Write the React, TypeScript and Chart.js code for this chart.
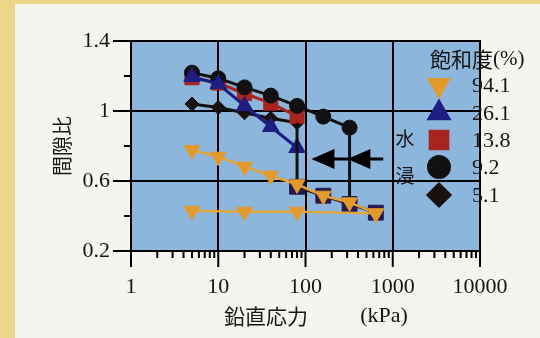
import { useEffect, useRef } from 'react';
import { Chart, registerables } from 'chart.js';
import { drawPoint } from 'chart.js/helpers';

Chart.register(...registerables);

// ---- data ----
const stressLoad = [5, 10, 20, 40, 80, 160, 320, 640];
const e941Load = [0.777, 0.739, 0.682, 0.63, 0.581, 0.516, 0.478, 0.415];
const stress941Unload = [640, 80, 20, 5];
const e941Unload = [0.415, 0.425, 0.425, 0.43];

const stressDry = [5, 10, 20, 40, 80];
const e261 = [1.196, 1.155, 1.03, 0.91, 0.79];
const e138 = [1.19, 1.16, 1.1, 1.045, 0.97];
const e051 = [1.04, 1.02, 0.99, 0.958, 0.933];

const stress092 = [5, 10, 20, 40, 80, 160, 320];
const e092 = [1.219, 1.187, 1.135, 1.088, 1.029, 0.968, 0.905];

const stressWet = [80, 160, 320, 640];
const eWet = [0.567, 0.516, 0.469, 0.419];

const soakAStress = [80, 80];
const soakAE = [0.933, 0.567];
const soakBStress = [320, 320];
const soakBE = [0.905, 0.469];

const saturationLabels = ['94.1', '26.1', '13.8', '9.2', '5.1'];
const legendTitle = '飽和度(%)';
const soakText = ['水', '浸'];

const xTickValues = [1, 10, 100, 1000, 10000];
const xTickLabels = ['1', '10', '100', '1000', '10000'];
const yTickValues = [0.2, 0.6, 1, 1.4];
const yTickLabels = ['0.2', '0.6', '1', '1.4'];
const yMinorTicks = [0.4, 0.8, 1.2];

// arrow annotation (data coordinates)
const arrowE = 0.726;
const arrowTail = 778;
const arrowTips = [117, 302];

const pts = (xs: number[], ys: number[]) => xs.map((x, i) => ({ x, y: ys[i] }));

const SERIF = "'Liberation Serif', 'Noto Sans CJK JP', serif";
const CJK = "'Noto Sans CJK JP', 'Liberation Serif', sans-serif";
const TEXT = '#161616';

const ORANGE = '#E39A2C';
const NAVY = '#1E1E82';
const RED = '#A8241E';
const BLACK = '#111111';

export default function App() {
  const ref = useRef<HTMLCanvasElement | null>(null);

  useEffect(() => {
    if (!ref.current) return;

    const decorPlugin = {
      id: 'decor',
      beforeDraw(chart: any) {
        const { ctx, chartArea: a, width, height } = chart;
        ctx.save();
        ctx.fillStyle = '#F4F4F0';
        ctx.fillRect(0, 0, width, height);
        ctx.fillStyle = '#EDD688';
        ctx.fillRect(0, 0, 15, height);
        ctx.fillRect(0, 0, width, 4);
        ctx.fillStyle = '#8DB6DD';
        ctx.fillRect(a.left, a.top, a.right - a.left, a.bottom - a.top);
        ctx.restore();
      },
      afterDraw(chart: any) {
        const { ctx, chartArea: a } = chart;
        const xs = chart.scales.x;
        const ys = chart.scales.y;
        ctx.save();
        // frame
        ctx.strokeStyle = '#000';
        ctx.lineWidth = 2;
        ctx.strokeRect(a.left, a.top, a.right - a.left, a.bottom - a.top);
        // y ticks
        ctx.beginPath();
        yTickValues.forEach((v) => {
          const y = ys.getPixelForValue(v);
          ctx.moveTo(a.left - 18, y);
          ctx.lineTo(a.left, y);
        });
        yMinorTicks.forEach((v) => {
          const y = ys.getPixelForValue(v);
          ctx.moveTo(a.left - 7, y);
          ctx.lineTo(a.left, y);
        });
        // x ticks
        for (let d = 0; d < 4; d++) {
          for (let m = 2; m <= 9; m++) {
            const x = xs.getPixelForValue(m * Math.pow(10, d));
            ctx.moveTo(x, a.bottom);
            ctx.lineTo(x, a.bottom + 7);
          }
        }
        xTickValues.forEach((v) => {
          const x = xs.getPixelForValue(v);
          ctx.moveTo(x, a.bottom);
          ctx.lineTo(x, a.bottom + 16);
        });
        ctx.stroke();

        // arrow annotation
        const ay = ys.getPixelForValue(arrowE);
        ctx.strokeStyle = '#000';
        ctx.fillStyle = '#000';
        ctx.lineWidth = 3;
        ctx.beginPath();
        ctx.moveTo(xs.getPixelForValue(arrowTail), ay);
        ctx.lineTo(xs.getPixelForValue(arrowTips[0]) + 4, ay);
        ctx.stroke();
        arrowTips.forEach((t) => {
          const tx = xs.getPixelForValue(t);
          ctx.beginPath();
          ctx.moveTo(tx, ay);
          ctx.lineTo(tx + 23, ay - 10);
          ctx.lineTo(tx + 23, ay + 10);
          ctx.closePath();
          ctx.fill();
        });

        // axis titles
        ctx.fillStyle = TEXT;
        ctx.textBaseline = 'middle';
        ctx.textAlign = 'center';
        ctx.font = `21px ${CJK}`;
        ctx.fillText('鉛直応力', 266, 316);
        ctx.font = `22px ${SERIF}`;
        ctx.fillText('(kPa)', 384, 316);
        ctx.save();
        ctx.translate(62, (a.top + a.bottom) / 2);
        ctx.rotate(-Math.PI / 2);
        ctx.font = `20px ${CJK}`;
        ctx.fillText('間隙比', 0, 0);
        ctx.restore();

        // soak text
        ctx.font = `19px ${CJK}`;
        ctx.fillText(soakText[0], a.right - 75, 139);
        ctx.fillText(soakText[1], a.right - 75, 176);

        // legend
        ctx.textAlign = 'left';
        ctx.font = `21px ${CJK}`;
        const jp = legendTitle.slice(0, 3);
        ctx.fillText(jp, 430, 59);
        const jpW = ctx.measureText(jp).width;
        ctx.font = `21px ${SERIF}`;
        ctx.fillText(legendTitle.slice(3), 430 + jpW, 59);

        const legendDs = [0, 4, 6, 5, 7];
        const rowY = [85, 113, 140, 167, 195];
        const legendRadius = [11, 11.5, 12.5, 10.5, 11];
        legendDs.forEach((di, i) => {
          const ds = chart.data.datasets[di];
          ctx.fillStyle = ds.pointBackgroundColor;
          ctx.strokeStyle = ds.pointBorderColor;
          drawPoint(
            ctx,
            {
              pointStyle: ds.pointStyle,
              rotation: ds.pointRotation || 0,
              radius: legendRadius[i],
              borderWidth: 1,
            },
            439,
            rowY[i]
          );
          ctx.fillStyle = TEXT;
          ctx.font = `22px ${SERIF}`;
          ctx.fillText(saturationLabels[i], 472, rowY[i] + 1);
        });
        ctx.restore();
      },
    };

    const chart = new Chart(ref.current, {
      type: 'scatter',
      data: {
        datasets: [
          {
            label: saturationLabels[0],
            data: [...pts(stressLoad, e941Load), ...pts(stress941Unload, e941Unload)],
            showLine: true,
            borderColor: '#E2A636',
            borderWidth: 2.5,
            pointStyle: 'triangle',
            pointRotation: 180,
            pointRadius: 9,
            pointBackgroundColor: ORANGE,
            pointBorderColor: ORANGE,
            pointBorderWidth: 1,
          } as any,
          {
            label: 'wet',
            data: pts(stressWet, eWet),
            showLine: true,
            borderColor: '#3A1830',
            borderWidth: 3,
            pointStyle: 'rect',
            pointRadius: 10.5,
            pointBackgroundColor: '#241A50',
            pointBorderColor: '#241A50',
            pointBorderWidth: 1,
          },
          {
            label: 'soakA',
            data: pts(soakAStress, soakAE),
            showLine: true,
            borderColor: BLACK,
            borderWidth: 3,
            pointRadius: 0,
          },
          {
            label: 'soakB',
            data: pts(soakBStress, soakBE),
            showLine: true,
            borderColor: BLACK,
            borderWidth: 3,
            pointRadius: 0,
          },
          {
            label: saturationLabels[1],
            data: pts(stressDry, e261),
            showLine: true,
            borderColor: NAVY,
            borderWidth: 3,
            pointStyle: 'triangle',
            pointRadius: 9.5,
            pointBackgroundColor: NAVY,
            pointBorderColor: NAVY,
            pointBorderWidth: 1,
          },
          {
            label: saturationLabels[3],
            data: pts(stress092, e092),
            showLine: true,
            borderColor: BLACK,
            borderWidth: 3,
            pointStyle: 'circle',
            pointRadius: 7.5,
            pointBackgroundColor: BLACK,
            pointBorderColor: BLACK,
            pointBorderWidth: 1,
          },
          {
            label: saturationLabels[2],
            data: pts(stressDry, e138),
            showLine: true,
            borderColor: RED,
            borderWidth: 3,
            pointStyle: 'rect',
            pointRadius: 10,
            pointBackgroundColor: RED,
            pointBorderColor: RED,
            pointBorderWidth: 1,
          },
          {
            label: saturationLabels[4],
            data: pts(stressDry, e051),
            showLine: true,
            borderColor: BLACK,
            borderWidth: 3,
            pointStyle: 'rectRot',
            pointRadius: 7,
            pointBackgroundColor: '#1A1010',
            pointBorderColor: '#1A1010',
            pointBorderWidth: 1,
          },
        ],
      },
      options: {
        responsive: false,
        animation: false,
        events: [],
        layout: { padding: { left: 0, right: 60, top: 41, bottom: 0 } },
        plugins: {
          legend: { display: false },
          tooltip: { enabled: false },
          title: { display: false },
        },
        scales: {
          x: {
            type: 'logarithmic',
            position: 'bottom',
            min: 1,
            max: 10000,
            border: { display: false },
            grid: { color: '#000', lineWidth: 2, drawTicks: false },
            ticks: {
              padding: 23,
              color: TEXT,
              font: { family: SERIF, size: 22 },
              maxRotation: 0,
              autoSkip: false,
              callback: (v: any) => {
                const i = xTickValues.indexOf(Number(v));
                return i >= 0 ? xTickLabels[i] : '';
              },
            },
            afterBuildTicks: (s: any) => {
              s.ticks = xTickValues.map((value) => ({ value }));
            },
            afterFit: (s: any) => {
              s.height = 87;
            },
          },
          y: {
            type: 'linear',
            min: 0.2,
            max: 1.4,
            border: { display: false },
            grid: { color: '#000', lineWidth: 2, drawTicks: false },
            ticks: {
              padding: 21,
              color: TEXT,
              font: { family: SERIF, size: 22 },
              autoSkip: false,
              callback: (v: any) => {
                const i = yTickValues.findIndex((t) => Math.abs(t - Number(v)) < 1e-6);
                return i >= 0 ? yTickLabels[i] : '';
              },
            },
            afterBuildTicks: (s: any) => {
              s.ticks = yTickValues.map((value) => ({ value }));
            },
            afterFit: (s: any) => {
              s.width = 131;
            },
          },
        },
      } as any,
      plugins: [decorPlugin],
    });

    return () => chart.destroy();
  }, []);

  return (
    <div style={{ position: 'absolute', left: 0, top: 0, width: 540, height: 338 }}>
      <canvas ref={ref} width={540} height={338} style={{ display: 'block' }} />
    </div>
  );
}
